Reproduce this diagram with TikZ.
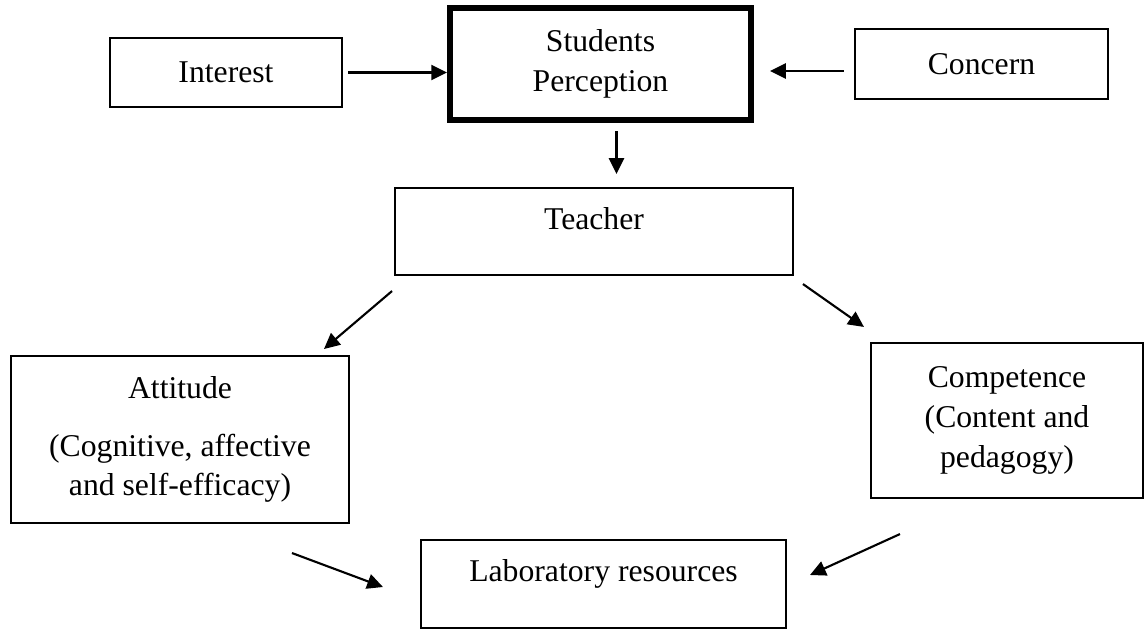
\documentclass[tikz,border=0pt]{standalone}
\usepackage{fontspec}
\setmainfont{Liberation Serif}
\usepackage{tikz}
\usetikzlibrary{calc,arrows.meta}

\begin{document}
\begin{tikzpicture}[
    x=0.0133cm,
    y=-0.0133cm,
    font=\fontsize{12}{15}\selectfont,
    >={Triangle[length=2.1mm,width=2mm]},
    box/.style={
        draw,
        line width=0.8pt,
        align=center,
        inner sep=0pt
    },
    mainbox/.style={
        box,
        line width=2.3pt
    },
    raised/.style={
        text depth=10pt
    },
    arrow/.style={
        ->,
        line width=0.8pt
    }
]
\useasboundingbox (0,0) rectangle (1147,630);

% =========================
% Top row: perception
% =========================
\node[box, minimum width=3.086cm, minimum height=0.918cm] (interest) at (226,72.5) {Interest};
\node[mainbox, minimum width=4.003cm, minimum height=1.49cm] (sp) at (600.5,64) {Students\\Perception};
\node[box, minimum width=3.365cm, minimum height=0.931cm] (concern) at (981.5,64) {Concern};

\draw[arrow] ($(interest.east)+(5,0)$) -- (interest.east -| sp.west);
\draw[arrow] ($(concern.west)+(-10,7)$) -- ($(concern.west -| sp.east)+(16,7)$);

% =========================
% Middle: teacher
% =========================
\node[box, raised, minimum width=5.293cm, minimum height=1.157cm] (teacher) at (594,231.5) {Teacher};

\draw[arrow] ($(sp.south)+(16,8)$) -- ($(sp.south |- teacher.north)+(16,-13)$);

% =========================
% Teacher factors
% =========================
\node[box, minimum width=4.495cm, minimum height=2.221cm] (attitude) at (180,439.5)
    {Attitude\\[0.24cm](Cognitive, affective\\and self-efficacy)};
\node[box, minimum width=3.618cm, minimum height=2.062cm] (competence) at (1007,420.5)
    {Competence\\(Content and\\pedagogy)};

\draw[arrow] ($(teacher.south west)+(-2,15)$) -- ($(attitude.north east)+(-26,-6)$);
\draw[arrow] ($(teacher.south east)+(9,8)$) -- ($(competence.north west)+(-6,-15)$);

% =========================
% Bottom: resources
% =========================
\node[box, raised, minimum width=4.855cm, minimum height=1.17cm] (lab) at (603.5,584) {Laboratory resources};

\draw[arrow] ($(attitude.south east)+(-58,29)$) -- ($(lab.west)+(-37,3)$);
\draw[arrow] ($(competence.south west)+(30,35)$) -- ($(lab.east)+(23,-9)$);

\end{tikzpicture}
\end{document}
